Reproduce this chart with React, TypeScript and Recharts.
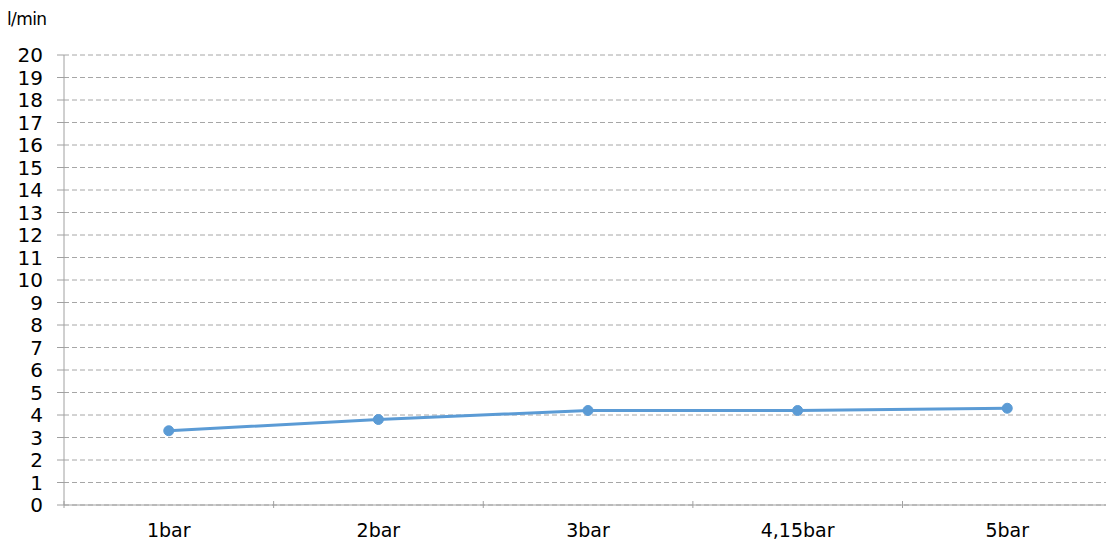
import React from 'react';
import { LineChart, Line, XAxis, YAxis, CartesianGrid } from 'recharts';

const categories = ['1bar', '2bar', '3bar', '4,15bar', '5bar'];
const flow = [3.3, 3.8, 4.2, 4.2, 4.3];
const yTicks = [0, 1, 2, 3, 4, 5, 6, 7, 8, 9, 10, 11, 12, 13, 14, 15, 16, 17, 18, 19, 20];

const data = categories.map((name, i) => ({ name, flow: flow[i] }));

const FONT = '"DejaVu Sans", Verdana, sans-serif';
const AXIS = '#a0a0a0';
const BAND = 209.5;

const XTick = (props: any) => {
  const { x, y, payload } = props;
  const left = x - BAND / 2;
  return (
    <g>
      <line x1={left} y1={y - 12} x2={left} y2={y - 5} stroke={AXIS} strokeWidth={1} />
      <text x={x} y={y + 24} textAnchor="middle" fontSize={19} fill="#000" fontFamily={FONT}>
        {payload.value}
      </text>
    </g>
  );
};

const App: React.FC = () => {
  return (
    <div style={{ position: 'absolute', left: 0, top: 0, width: 1106, height: 546, background: '#fff', overflow: 'hidden' }}>
      <div style={{ position: 'absolute', left: 7, top: 9, fontFamily: FONT, fontSize: 17, letterSpacing: -0.6, color: '#000' }}>
        l/min
      </div>
      <LineChart
        width={1106}
        height={546}
        data={data}
        margin={{ top: 55, right: -6, left: 0, bottom: 11 }}
      >
        <CartesianGrid vertical={false} stroke="#a6a6a6" strokeDasharray="5 3" />
        <XAxis
          dataKey="name"
          stroke={AXIS}
          tickLine={false}
          tick={<XTick />}
          height={30}
          interval={0}
          padding={{ left: BAND / 2, right: BAND / 2 }}
        />
        <YAxis
          domain={[0, 20]}
          ticks={yTicks}
          interval={0}
          width={64}
          stroke={AXIS}
          tickSize={7}
          tick={{ fontSize: 20, fill: '#000', fontFamily: FONT, dx: -12 }}
        />
        <Line
          type="linear"
          dataKey="flow"
          stroke="#5B9BD5"
          strokeWidth={3}
          dot={{ r: 5, fill: '#5B9BD5', stroke: '#5B9BD5', strokeWidth: 1 }}
          isAnimationActive={false}
        />
      </LineChart>
    </div>
  );
};

export default App;
